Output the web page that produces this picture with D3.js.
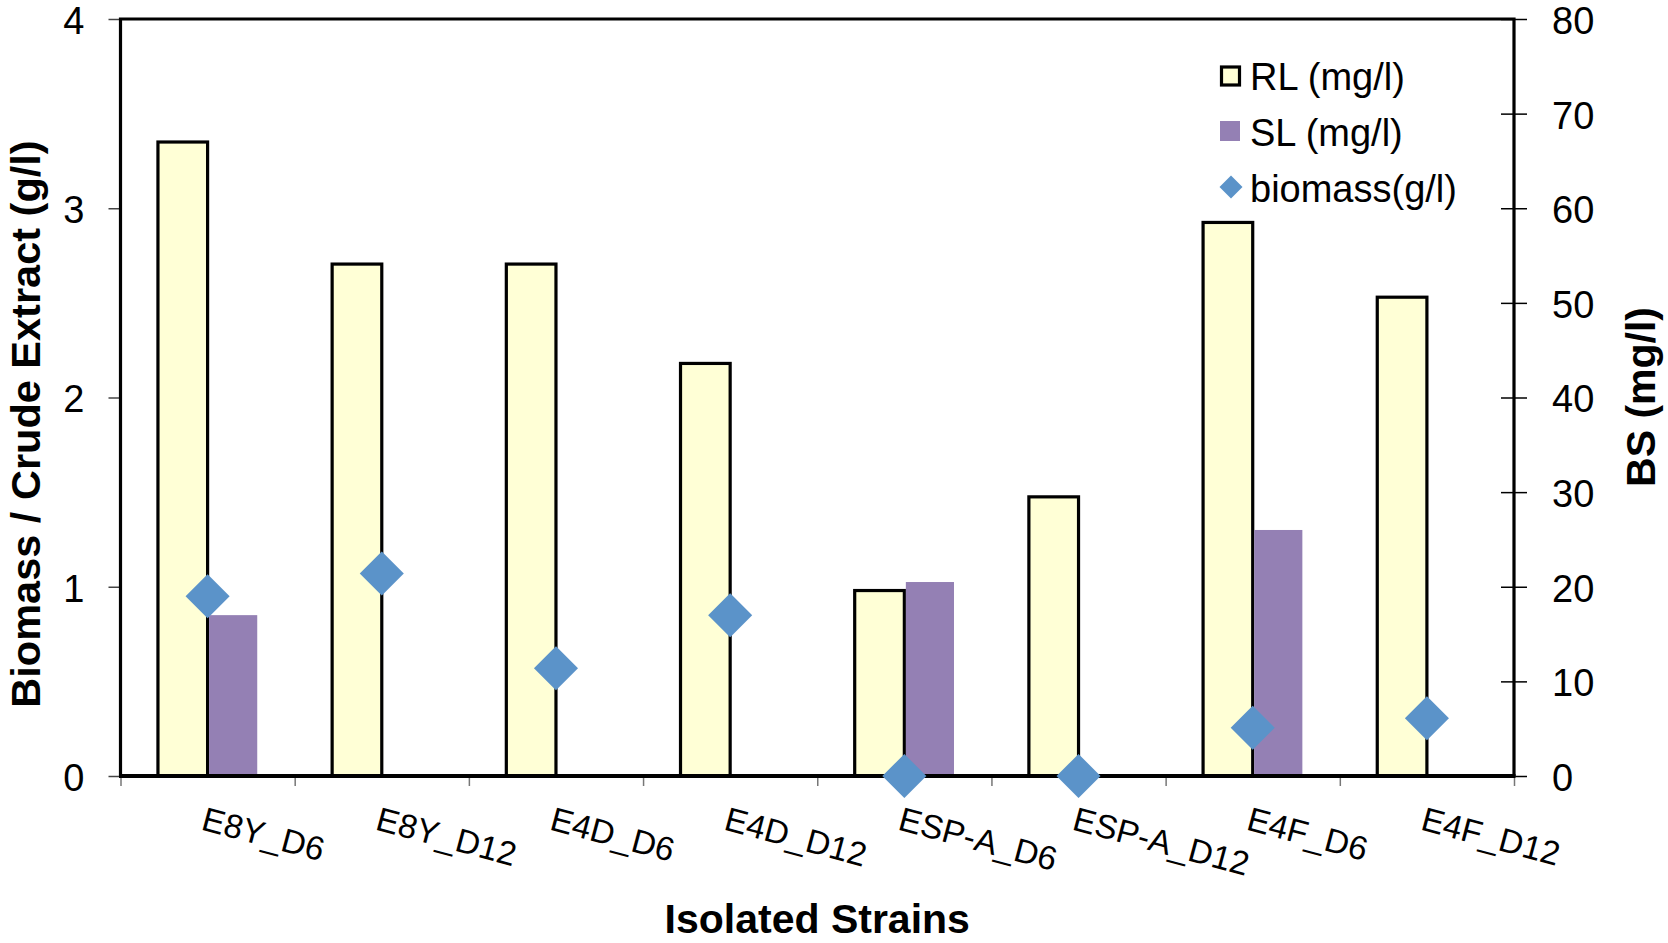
<!DOCTYPE html>
<html>
<head>
<meta charset="utf-8">
<script src="https://cdn.jsdelivr.net/npm/d3@7"></script>
<style>
  html, body { margin: 0; padding: 0; background: #fff; }
  svg text { font-family: "Liberation Sans", Arial, Helvetica, sans-serif; fill: #000; }
</style>
</head>
<body>
<svg id="chart" width="1668" height="943"></svg>
<script>
/*
** Data
*/
var strains = ["E8Y_D6", "E8Y_D12", "E4D_D6", "E4D_D12", "ESP-A_D6", "ESP-A_D12", "E4F_D6", "E4F_D12"];
var rlValues = [67.0, 54.1, 54.1, 43.6, 19.6, 29.5, 58.5, 50.6];      // mg/l, right axis
var slValues = [17.0, 0, 0, 0, 20.5, 0, 26.0, 0];                     // mg/l, right axis
var biomassValues = [0.95, 1.07, 0.57, 0.85, 0, 0, 0.255, 0.305];     // g/l, left axis
var leftTicks = [0, 1, 2, 3, 4];
var rightTicks = [0, 10, 20, 30, 40, 50, 60, 70, 80];
var legendLabels = ["RL (mg/l)", "SL (mg/l)", "biomass(g/l)"];

/*
** Layout
*/
var plot = { left: 120.5, right: 1514, top: 19, bottom: 776 }
  , rlFill = "#ffffd6"
  , slFill = "#9480b4"
  , bioFill = "#5b93c9"
;

var svg = d3.select("#chart");

var x0 = d3.scaleBand()
    .domain(strains)
    .range([plot.left, plot.right])
    .paddingInner(0.43)
    .paddingOuter(0.215)
;
var x1 = d3.scaleBand()
    .domain(["RL", "SL"])
    .range([0, x0.bandwidth()])
;
var xEdge = d3.scaleLinear()
    .domain([0, strains.length])
    .range([plot.left, plot.right])
;
var yLeft = d3.scaleLinear().domain([0, 4]).range([plot.bottom, plot.top]);
var yRight = d3.scaleLinear().domain([0, 80]).range([plot.bottom, plot.top]);

/*
** Bars
*/
var rows = strains.map(function(s, i) {
    return { strain: s, rl: rlValues[i], sl: slValues[i], bio: biomassValues[i] };
});

svg.append("g").attr("class", "rl")
  .selectAll("rect")
    .data(rows)
  .enter().append("rect")
    .attr("x", function(d) { return x0(d.strain) + x1("RL"); })
    .attr("y", function(d) { return yRight(d.rl); })
    .attr("width", x1.bandwidth())
    .attr("height", function(d) { return yRight(0) - yRight(d.rl); })
    .attr("fill", rlFill)
    .attr("stroke", "#000")
    .attr("stroke-width", 3.2)
;

svg.append("g").attr("class", "sl")
  .selectAll("rect")
    .data(rows.filter(function(d) { return d.sl > 0; }))
  .enter().append("rect")
    .attr("x", function(d) { return x0(d.strain) + x1("SL") + 1.5; })
    .attr("y", function(d) { return yRight(d.sl); })
    .attr("width", x1.bandwidth() - 1.5)
    .attr("height", function(d) { return yRight(0) - yRight(d.sl); })
    .attr("fill", slFill)
;

/*
** Axes
*/
var leftAxis = svg.append("g")
    .attr("transform", "translate(" + plot.left + ",0)")
    .call(d3.axisLeft(yLeft).tickValues(leftTicks).tickFormat(d3.format("d"))
        .tickSize(12).tickPadding(24))
;
leftAxis.select(".domain").remove();
leftAxis.selectAll(".tick line").attr("stroke", "#444").attr("stroke-width", 1.5);
leftAxis.selectAll(".tick text").attr("dy", "0.38em").style("font-size", "38px");

var rightAxis = svg.append("g")
    .attr("transform", "translate(" + plot.right + ",0)")
    .call(d3.axisRight(yRight).tickValues(rightTicks).tickFormat(d3.format("d"))
        .tickSize(13).tickPadding(25))
;
rightAxis.select(".domain").remove();
rightAxis.selectAll(".tick line")
    .attr("x1", -13)
    .attr("stroke", "#000")
    .attr("stroke-width", 1.5)
;
rightAxis.selectAll(".tick text").attr("dy", "0.38em").style("font-size", "38px");

var bottomAxis = svg.append("g")
    .attr("transform", "translate(0," + plot.bottom + ")")
    .call(d3.axisBottom(xEdge).tickValues(d3.range(strains.length + 1))
        .tickFormat("").tickSize(10))
;
bottomAxis.select(".domain").remove();
bottomAxis.selectAll(".tick line").attr("stroke", "#777").attr("stroke-width", 1.5);

// plot frame and zero line
svg.append("path")
    .attr("d", "M" + plot.left + "," + plot.bottom + "V" + plot.top + "H" + plot.right + "V" + plot.bottom)
    .attr("fill", "none")
    .attr("stroke", "#000")
    .attr("stroke-width", 3.2)
;
svg.append("line")
    .attr("x1", plot.left - 1.5).attr("x2", plot.right + 1.5)
    .attr("y1", yLeft(0)).attr("y2", yLeft(0))
    .attr("stroke", "#000")
    .attr("stroke-width", 4)
;

/*
** Biomass diamonds
*/
var diamond = d3.symbol().type(d3.symbolSquare).size(968);
svg.append("g").attr("class", "biomass")
  .selectAll("path")
    .data(rows)
  .enter().append("path")
    .attr("d", diamond)
    .attr("transform", function(d) {
        return "translate(" + (x0(d.strain) + x0.bandwidth() / 2) + "," + yLeft(d.bio) + ") rotate(45)";
      })
    .attr("fill", bioFill)
;

/*
** Category labels
*/
svg.append("g").attr("class", "xlabels")
  .selectAll("text")
    .data(strains)
  .enter().append("text")
    .attr("transform", function(s) {
        return "translate(" + (x0(s) + x0.bandwidth() / 2 - 1) + ",805) rotate(15)";
      })
    .attr("y", 25)
    .style("font-size", "33.5px")
    .text(function(s) { return s; })
;

/*
** Titles
*/
svg.append("text")
    .attr("transform", "translate(40,424) rotate(-90)")
    .attr("text-anchor", "middle")
    .style("font-size", "41.5px")
    .style("font-weight", "bold")
    .text("Biomass / Crude Extract (g/l)")
;
svg.append("text")
    .attr("transform", "translate(1655,397) rotate(-90)")
    .attr("text-anchor", "middle")
    .style("font-size", "41px")
    .style("font-weight", "bold")
    .text("BS (mg/l)")
;
svg.append("text")
    .attr("x", (plot.left + plot.right) / 2)
    .attr("y", 933)
    .attr("text-anchor", "middle")
    .style("font-size", "41px")
    .style("font-weight", "bold")
    .text("Isolated Strains")
;

/*
** Legend
*/
var legend = svg.append("g").attr("transform", "translate(1220,0)");
var item = legend.selectAll("g")
    .data(legendLabels)
  .enter().append("g")
    .attr("transform", function(d, i) { return "translate(0," + (i * 56) + ")"; })
;
item.each(function(d, i) {
    var self = d3.select(this);
    if (i === 0) {
        self.append("rect")
            .attr("x", 1.5).attr("y", 67)
            .attr("width", 18).attr("height", 18)
            .attr("fill", rlFill)
            .attr("stroke", "#000")
            .attr("stroke-width", 3.2)
        ;
    } else if (i === 1) {
        self.append("rect")
            .attr("x", 0).attr("y", 65)
            .attr("width", 20).attr("height", 20)
            .attr("fill", slFill)
        ;
    } else {
        self.append("path")
            .attr("d", d3.symbol().type(d3.symbolSquare).size(265))
            .attr("transform", "translate(11,75) rotate(45)")
            .attr("fill", bioFill)
        ;
    }
    self.append("text")
        .attr("x", 30)
        .attr("y", 90)
        .style("font-size", "38px")
        .text(d)
    ;
});
</script>
</body>
</html>
